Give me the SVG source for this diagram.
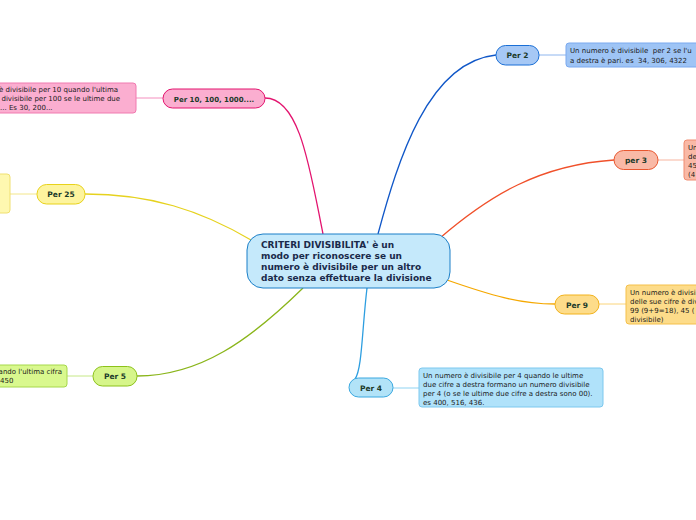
<svg xmlns="http://www.w3.org/2000/svg" width="696" height="520" viewBox="0 0 696 520">
<style>
text{font-family:"DejaVu Sans","Liberation Sans",sans-serif}
.t{font-size:7px;fill:#1a1a1a;white-space:pre}
.p{font-size:7.5px;font-weight:bold;fill:#1b3a2a;text-anchor:middle}
.c{font-size:9px;font-weight:bold;fill:#1a2a4a}
.con{fill:none;stroke-width:1.3}
.lk{fill:none;stroke-width:1}
</style>
<rect width="696" height="520" fill="#ffffff"/>
<g id="connectors">
<path class="con" stroke="#1057c8" d="M378,234 C398,160 428,62 496,55"/>
<path class="con" stroke="#e3146f" d="M265,98 C300,98 310,170 323,234"/>
<path class="con" stroke="#e6d21e" d="M85,194 C150,194 200,210 251,240"/>
<path class="con" stroke="#8ab51a" d="M137,376 C200,376 250,340 303,288"/>
<path class="con" stroke="#2d9ee0" d="M367,288 C362,330 362,370 355,379"/>
<path class="con" stroke="#f0502a" d="M440,238 C490,195 540,165 614,160"/>
<path class="con" stroke="#f5a800" d="M447,280 C490,295 520,304 555,304"/>
<path class="lk" stroke="#8fb6ee" d="M539,55 H566"/>
<path class="lk" stroke="#f7b5a0" d="M658,160 H684"/>
<path class="lk" stroke="#fad47a" d="M599,304 H626"/>
<path class="lk" stroke="#8fd3f2" d="M393,388 H419"/>
<path class="lk" stroke="#c6e886" d="M93,376 H67"/>
<path class="lk" stroke="#f3e68a" d="M37,194 H10"/>
<path class="lk" stroke="#f48fbe" d="M163,98 H136"/>
</g>
<g id="central">
<rect x="247" y="234" width="203" height="54" rx="16" fill="#c5e9fb" stroke="#1a7fc8" stroke-width="1"/>
<text class="c" x="261" y="248">CRITERI DIVISIBILITA' è un</text>
<text class="c" x="261" y="259">modo per riconoscere se un</text>
<text class="c" x="261" y="270">numero è divisibile per un altro</text>
<text class="c" x="261" y="281">dato senza effettuare la divisione</text>
</g>
<g id="per2">
<rect x="496" y="45.5" width="43" height="19.5" rx="9.5" fill="#a6c8f5" stroke="#1a6fd6"/>
<text class="p" x="517.5" y="58">Per 2</text>
</g>
<g id="per2-text">
<rect x="566" y="43" width="140" height="24" rx="3" fill="#9ec4f5" stroke="#7aa9ef"/>
<text class="t" x="570" y="53">Un numero è divisibile  per 2 se l'u</text>
<text class="t" x="570" y="63">a destra è pari. es  34, 306, 4322</text>
</g>
<g id="per3">
<rect x="614" y="150.5" width="44" height="19" rx="9.5" fill="#f9b9a6" stroke="#e8572f"/>
<text class="p" x="636" y="163">per 3</text>
</g>
<g id="per3-text">
<rect x="684" y="140" width="40" height="40" rx="3" fill="#f9b9a6" stroke="#f08c70"/>
<text class="t" x="688" y="150">Un</text>
<text class="t" x="688" y="159">de</text>
<text class="t" x="688" y="168">45</text>
<text class="t" x="688" y="177">(4</text>
</g>
<g id="per9">
<rect x="555" y="295" width="44" height="19" rx="9.5" fill="#fddc8a" stroke="#f2b21c"/>
<text class="p" x="577" y="307.5">Per 9</text>
</g>
<g id="per9-text">
<rect x="626" y="285" width="90" height="39" rx="3" fill="#fddc8a" stroke="#f5c04a"/>
<text class="t" x="630" y="295">Un numero è divisi</text>
<text class="t" x="630" y="304">delle sue cifre è div</text>
<text class="t" x="630" y="313">99 (9+9=18), 45 (</text>
<text class="t" x="630" y="322">divisibile)</text>
</g>
<g id="per4">
<rect x="349" y="378" width="44" height="19" rx="9.5" fill="#b2e3f8" stroke="#3aa8e0"/>
<text class="p" x="371" y="390.5">Per 4</text>
</g>
<g id="per4-text">
<rect x="419" y="368" width="184" height="39" rx="3" fill="#b0e2fa" stroke="#7cc8ee"/>
<text class="t" x="423" y="378">Un numero è divisibile per 4 quando le ultime</text>
<text class="t" x="423" y="387">due cifre a destra formano un numero divisibile</text>
<text class="t" x="423" y="396">per 4 (o se le ultime due cifre a destra sono 00).</text>
<text class="t" x="423" y="405">es 400, 516, 436.</text>
</g>
<g id="per5">
<rect x="93" y="366.5" width="44" height="19.5" rx="9.5" fill="#d6f58a" stroke="#8cc21a"/>
<text class="p" x="115" y="379">Per 5</text>
</g>
<g id="per5-text">
<rect x="-40" y="365" width="107" height="22" rx="3" fill="#d9f88e" stroke="#a6d84a"/>
<text class="t" x="62" y="374" text-anchor="end">quando l'ultima cifra</text>
<text class="t" x="0" y="383">450</text>
</g>
<g id="per25">
<rect x="37" y="184.5" width="48" height="19.5" rx="9.5" fill="#fdf49e" stroke="#e8d21a"/>
<text class="p" x="61" y="197">Per 25</text>
</g>
<g id="per25-text">
<rect x="-40" y="174" width="50" height="39" rx="3" fill="#fef8b0" stroke="#f0e070"/>
</g>
<g id="per10">
<rect x="163" y="89" width="102" height="19" rx="9.5" fill="#fbaed0" stroke="#e3146f"/>
<text class="p" x="214" y="101.5" style="font-size:7px">Per 10, 100, 1000....</text>
</g>
<g id="per10-text">
<rect x="-40" y="83" width="176" height="30" rx="3" fill="#fbaed0" stroke="#f07ab0"/>
<text class="t" x="-1" y="92">è divisibile per 10 quando l'ultima</text>
<text class="t" x="-3" y="101">, divisibile per 100 se le ultime due</text>
<text class="t" x="0" y="110">... Es 30, 200...</text>
</g>
</svg>
